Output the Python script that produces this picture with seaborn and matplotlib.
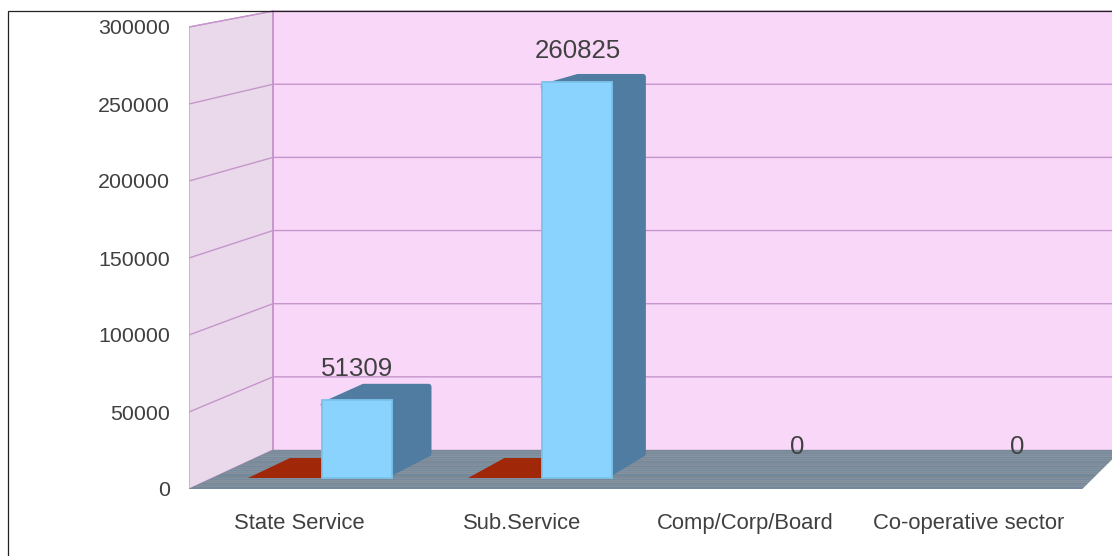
import numpy as np
import pandas as pd
import matplotlib
matplotlib.use("Agg")
import matplotlib.pyplot as plt
from matplotlib.patches import Rectangle
from matplotlib.transforms import Affine2D
import seaborn as sns

categories = ['State Service', 'Sub.Service', 'Comp/Corp/Board', 'Co-operative sector']
blue_values = [51309, 260825, 0, 0]
red_values = [0, 0, None, None]
y_ticks = [0, 50000, 100000, 150000, 200000, 250000, 300000]

W, H = 1112, 556
PX_X = 223.25       # pixels per category on the front plane
PX_Y = 77 / 50000   # pixels per unit on the front plane
LEFT, BOTTOM, TOP = 189, 489, 8

# vanishing point of the 3D box, and depths as fraction of the way to it
VP_X = 7.525
VP_Y = 506500
WALL = 0.05
BAR_FRONT = 0.0141
BAR_BACK = 0.0397

# the side/top silhouette is pulled in a little and stroked thick to get round corners
INSET_X = 0.007
INSET_V = 3000

FLOOR_BANDS = ['#75889b', '#7e8b99', '#748799', '#828c98', '#778a9c', '#7d8a97',
               '#73889b', '#808c99', '#768a9c', '#7c8a98', '#74889b', '#818d9a',
               '#788a9b', '#7e8b98', '#75899b', '#7f8c99', '#778a9b', '#7d8b99']


def project(x, v, t):
    return x + t * (VP_X - x), v + t * (VP_Y - v)


def face(ax, pts, color, ec=None, lw=0, z=2):
    xs, ys = zip(*[project(*p) for p in pts])
    ax.fill(xs, ys, facecolor=color, edgecolor=ec if ec else color, linewidth=lw,
            joinstyle='round', zorder=z)


sns.set_style("white")
plt.rcParams['font.family'] = ['Liberation Sans', 'DejaVu Sans']

fig = plt.figure(figsize=(W / 100, H / 100), dpi=100)
ax = fig.add_axes([LEFT / W, (H - BOTTOM) / H, (W - LEFT) / W, (BOTTOM - TOP) / H])
ax.patch.set_alpha(0)
x_max = (W - LEFT) / PX_X
y_max = (BOTTOM - TOP) / PX_Y
x_far = 4.0

# walls
face(ax, [(0, 0, WALL), (x_far, 0, WALL), (x_far, 300000, WALL), (0, 300000, WALL)], '#f8d7f8', z=1)
face(ax, [(0, 0, 0), (0, 0, WALL), (0, 300000, WALL), (0, 300000, 0)], '#ead9ea', ec='#c596cc', lw=0.9, z=1)

# gridlines
for tick in y_ticks[1:]:
    xa, ya = project(0, tick, 0)
    xb, yb = project(0, tick, WALL)
    xc, yc = project(x_far, tick, WALL)
    ax.plot([xa, xb, xc], [ya, yb, yc], color='#c596cc', lw=1.0, zorder=1.5)
xb0, yb0 = project(0, 0, WALL)
xb1, yb1 = project(0, 300000, WALL)
ax.plot([xb0, xb1], [yb0, yb1], color='#c596cc', lw=1.3, zorder=1.5)

# floor, in thin bands from front to back
edges = np.linspace(0, WALL, len(FLOOR_BANDS) + 1)
for i, col in enumerate(FLOOR_BANDS):
    face(ax, [(0, 0, edges[i]), (x_far, 0, edges[i]), (x_far, 0, edges[i + 1]), (0, 0, edges[i + 1])],
         col, lw=0.3, z=1.8)

# red series lies flat on the floor
for i, val in enumerate(red_values):
    if val is None:
        continue
    face(ax, [(i + 0.16, val, BAR_FRONT), (i + 0.5, val, BAR_FRONT),
              (i + 0.5, val, BAR_BACK), (i + 0.16, val, BAR_BACK)], '#a02808', z=2)

# blue series: side and top as one rounded silhouette
x_left = np.arange(4) + 0.496
x_right = np.arange(4) + 0.814
for xl, xr, val in zip(x_left, x_right, blue_values):
    if val == 0:
        continue
    face(ax, [(xl + INSET_X, val - INSET_V, BAR_FRONT), (xl + INSET_X, val - INSET_V, BAR_BACK),
              (xr - INSET_X, val - INSET_V, BAR_BACK), (xr - INSET_X, INSET_V, BAR_BACK),
              (xr - INSET_X, INSET_V, BAR_FRONT)], '#4f7ca0', lw=4, z=3)

# blue series: front faces as bars pushed back to their depth
to_depth = Affine2D().scale(1 - BAR_FRONT).translate(BAR_FRONT * VP_X, BAR_FRONT * VP_Y) + ax.transData
df = pd.DataFrame({'x': (x_left + x_right) / 2, 'value': blue_values})
df = df[df['value'] > 0]
sns.barplot(df, x='x', y='value', native_scale=True, width=x_right[0] - x_left[0], color='#8bd3ff',
            saturation=1, errorbar=None, edgecolor='#7cc3ec', linewidth=1.3, transform=to_depth,
            zorder=4, ax=ax)

# value labels
for xl, xr, val in zip(x_left, x_right, blue_values):
    lx, ly = project((xl + xr) / 2, val, BAR_FRONT)
    ax.annotate(str(val), (lx, ly), xytext=(0.5, 31), textcoords='offset pixels', ha='center', va='center',
                fontsize=18.6, color='#404040', zorder=5)

ax.set_xlim(0, x_max)
ax.set_ylim(0, y_max)
ax.set_xlabel('')
ax.set_ylabel('')
ax.set_xticks(np.arange(4) + 0.493)
ax.set_xticklabels(categories)
ax.set_yticks(y_ticks)
ax.set_yticklabels([str(t) for t in y_ticks])
ax.tick_params(axis='x', length=0, pad=17.5, labelsize=15.8, labelcolor='#404040')
ax.tick_params(axis='y', length=0, pad=13.8, labelsize=15.4, labelcolor='#404040')
sns.despine(ax=ax, left=True, bottom=True)

# frame round the whole chart, running off the right and bottom
fig.add_artist(Rectangle((8 / W, -0.05), 1.1, 1 + 0.05 - 11.5 / H, transform=fig.transFigure,
                         fill=False, edgecolor='#222222', linewidth=0.9))

fig.savefig('out.png', dpi=100)
